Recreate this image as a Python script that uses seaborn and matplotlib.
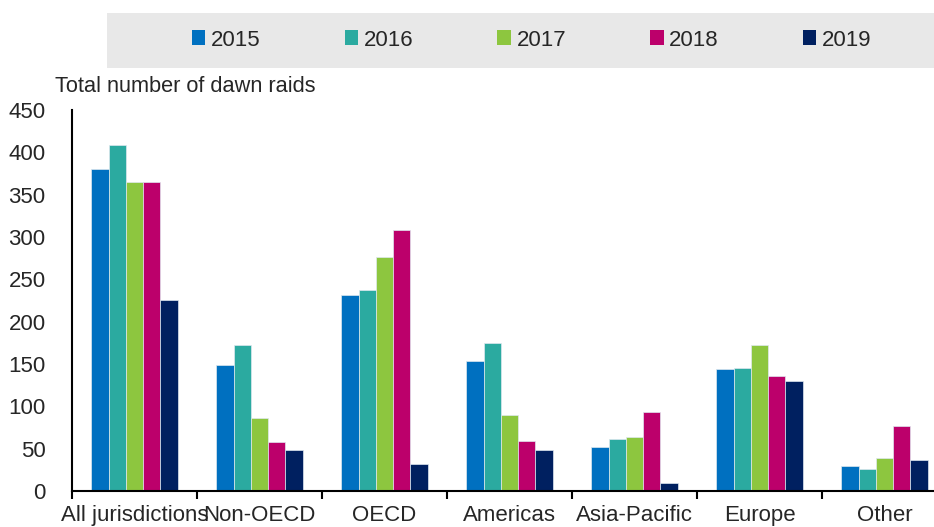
import pandas as pd
import numpy as np
import matplotlib.pyplot as plt
import seaborn as sns
from matplotlib.patches import Rectangle, Patch

## Data
regions = ['All jurisdictions', 'Non-OECD', 'OECD', 'Americas', 'Asia-Pacific', 'Europe', 'Other']
years = ['2015', '2016', '2017', '2018', '2019']
v2015 = [380, 149, 231, 154, 52, 144, 29]
v2016 = [409, 172, 237, 175, 62, 145, 26]
v2017 = [365, 86, 276, 90, 64, 172, 39]
v2018 = [365, 58, 308, 59, 93, 136, 77]
v2019 = [226, 49, 32, 49, 10, 130, 37]
colors = ['#0070C0', '#2BAAA0', '#8DC63F', '#BC006B', '#002060']

df = pd.DataFrame({'region': regions * 5,
                   'year': np.repeat(years, len(regions)),
                   'value': v2015 + v2016 + v2017 + v2018 + v2019})

sns.set_style('white')
plt.rcParams['font.family'] = ['Liberation Sans Narrow', 'Liberation Sans', 'DejaVu Sans']
fs = 16

fig = plt.figure(figsize=(9.34, 5.27), dpi=100)
ax = fig.add_axes([72 / 934, 1 - 491 / 527, 875 / 934, 381 / 527])

sns.barplot(data=df, x='region', y='value', hue='year', palette=colors, saturation=1,
            width=0.69, edgecolor='#dfe8f0', linewidth=0.5, ax=ax, legend=False)

##Axes styling
ax.set_xlim(-0.5, len(regions) - 0.5)
ax.set_ylim(0, 450)
ax.set_yticks(range(0, 451, 50))
ax.tick_params(axis='y', length=0, pad=19, labelsize=fs)
ax.set_xticks(range(len(regions)))
ax.set_xticklabels(regions)
ax.tick_params(axis='x', which='major', length=0, pad=10, labelsize=fs)
ax.set_xticks(np.arange(-0.5, len(regions), 1), minor=True)
ax.tick_params(axis='x', which='minor', bottom=True, length=6, width=1.5,
               direction='out', color='black')
ax.set_xlabel('')
ax.set_ylabel('')
for side in ['top', 'right']:
    ax.spines[side].set_visible(False)
for side in ['left', 'bottom']:
    ax.spines[side].set_color('black')
    ax.spines[side].set_linewidth(1.5)

fig.text(55 / 934, 1 - 86.5 / 527, 'Total number of dawn raids', fontsize=15.7, va='center', ha='left')

##Legend box
fig.patches.append(Rectangle((107 / 934, 1 - 67.7 / 527), 1 - 107 / 934, 55 / 527,
                             transform=fig.transFigure, facecolor='#E8E8E8', edgecolor='none', zorder=0))
handles = [Patch(facecolor=c, edgecolor='none') for c in colors]
fig.legend(handles, years, ncol=5, frameon=False, fontsize=fs,
           loc='center left', bbox_to_anchor=(192 / 934, 1 - 40 / 527),
           handlelength=0.6, handleheight=0.62, handletextpad=0.26, columnspacing=3.78,
           borderaxespad=0, borderpad=0)

fig.savefig('out.png', dpi=100)
